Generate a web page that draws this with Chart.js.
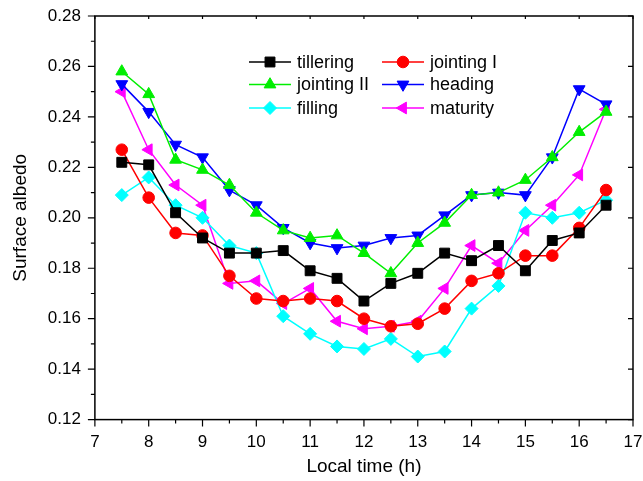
<!DOCTYPE html>
<html>
<head>
  <script src="https://cdn.jsdelivr.net/npm/chart.js"></script>
  <title>Surface albedo</title>
  <style>
    body { margin: 0; background: #fff; }
    #wrap { width: 643px; height: 481px; }
  </style>
</head>
<body>
  <div id="wrap"><canvas id="albedo"></canvas></div>

  <script>
    // Local time (h)
    let hours = [7.5, 8, 8.5, 9, 9.5, 10, 10.5, 11, 11.5, 12, 12.5, 13, 13.5, 14, 14.5, 15, 15.5, 16, 16.5];

    // surface albedo per growth stage
    let tillering  = [0.222, 0.221, 0.202, 0.192, 0.186, 0.186, 0.187, 0.179, 0.176, 0.167, 0.174, 0.178, 0.186, 0.183, 0.189, 0.179, 0.191, 0.194, 0.205];
    let jointing1  = [0.227, 0.208, 0.194, 0.193, 0.177, 0.168, 0.167, 0.168, 0.167, 0.160, 0.157, 0.158, 0.164, 0.175, 0.178, 0.185, 0.185, 0.196, 0.211];
    let jointing2  = [0.258, 0.249, 0.223, 0.219, 0.213, 0.202, 0.195, 0.192, 0.193, 0.186, 0.178, 0.190, 0.198, 0.209, 0.210, 0.215, 0.224, 0.234, 0.242];
    let heading    = [0.253, 0.242, 0.229, 0.224, 0.211, 0.205, 0.196, 0.190, 0.188, 0.189, 0.192, 0.193, 0.201, 0.209, 0.210, 0.209, 0.224, 0.251, 0.245];
    let filling    = [0.209, 0.216, 0.205, 0.200, 0.189, 0.186, 0.161, 0.154, 0.149, 0.148, 0.152, 0.145, 0.147, 0.164, 0.173, 0.202, 0.200, 0.202, 0.207];
    let maturity   = [0.250, 0.227, 0.213, 0.205, 0.174, 0.175, 0.166, 0.172, 0.159, 0.156, 0.157, 0.159, 0.172, 0.189, 0.182, 0.195, 0.205, 0.217, 0.243];

    let xTicks = [7, 8, 9, 10, 11, 12, 13, 14, 15, 16, 17];
    let yTicks = ['0.12', '0.14', '0.16', '0.18', '0.20', '0.22', '0.24', '0.26', '0.28'];

    function series(label, values, color, style, radius, rotation) {
      return {
        label: label,
        data: values.map((v, i) => ({ x: hours[i], y: v })),
        borderColor: color,
        backgroundColor: color,
        borderWidth: 1.5,
        pointStyle: style,
        pointRadius: radius,
        pointHoverRadius: radius,
        pointRotation: rotation || 0,
        pointBorderWidth: 1,
        tension: 0
      };
    }

    let datasets = [
      series('tillering', tillering, '#000000', 'rect', 7),
      series('jointing I', jointing1, '#ff0000', 'circle', 5.8),
      series('jointing II', jointing2, '#00ee00', 'triangle', 6.8),
      series('heading', heading, '#0000ff', 'triangle', 6.8, 180),
      series('filling', filling, '#00ffff', 'rectRot', 6.5),
      series('maturity', maturity, '#ff00ff', 'triangle', 6.8, 270)
    ];

    // frame with inside / outside tick marks, like the original plot
    let framePlugin = {
      id: 'frame',
      afterDraw(chart) {
        let ctx = chart.ctx;
        let a = chart.chartArea;
        let xs = chart.scales.x, ys = chart.scales.y;
        ctx.save();
        ctx.strokeStyle = '#000';
        ctx.lineWidth = 1.5;
        ctx.strokeRect(a.left, a.top, a.right - a.left, a.bottom - a.top);
        ctx.lineWidth = 1.2;
        ctx.beginPath();
        for (let v = 7; v <= 17.001; v += 0.5) {
          let px = xs.getPixelForValue(v);
          let major = Math.abs(v - Math.round(v)) < 1e-6;
          ctx.moveTo(px, a.bottom);
          ctx.lineTo(px, a.bottom + (major ? 7 : 4));
          if (major) { ctx.moveTo(px, a.top); ctx.lineTo(px, a.top + 3); }
        }
        for (let i = 0; i <= 16; i++) {
          let py = ys.getPixelForValue(0.12 + i * 0.01);
          let major = i % 2 === 0;
          ctx.moveTo(a.left, py);
          ctx.lineTo(a.left - (major ? 7 : 4), py);
          if (major) { ctx.moveTo(a.right, py); ctx.lineTo(a.right - 5, py); }
        }
        ctx.stroke();
        ctx.restore();
      }
    };

    // two column legend inside the plot
    let legendPlugin = {
      id: 'innerLegend',
      afterDraw(chart) {
        let ctx = chart.ctx;
        let cols = [270, 403];
        let rows = [62, 84.5, 108];
        ctx.save();
        ctx.font = '18px "Liberation Sans", Arial, sans-serif';
        ctx.textBaseline = 'middle';
        ctx.textAlign = 'left';
        chart.data.datasets.forEach((ds, i) => {
          let cx = cols[i % 2], cy = rows[Math.floor(i / 2)];
          ctx.strokeStyle = ds.borderColor;
          ctx.fillStyle = ds.backgroundColor;
          ctx.lineWidth = 1.5;
          ctx.beginPath();
          ctx.moveTo(cx - 21, cy);
          ctx.lineTo(cx + 21, cy);
          ctx.stroke();
          ctx.lineWidth = 1;
          Chart.helpers.drawPoint(ctx, {
            pointStyle: ds.pointStyle,
            rotation: ds.pointRotation,
            radius: ds.pointRadius,
            borderWidth: 1
          }, cx, cy);
          ctx.fillStyle = '#000';
          ctx.fillText(ds.label, cx + 27, cy + 1);
        });
        ctx.restore();
      }
    };

    let ctx = document.getElementById('albedo').getContext('2d');
    new Chart(ctx, {
      type: 'line',
      data: { datasets: datasets },
      plugins: [framePlugin, legendPlugin],
      options: {
        responsive: true,
        maintainAspectRatio: false,
        animation: false,
        layout: { padding: { top: 16, right: 10, left: 0, bottom: 0 } },
        plugins: {
          legend: { display: false },
          tooltip: { enabled: false }
        },
        scales: {
          x: {
            type: 'linear',
            min: 7,
            max: 17,
            afterBuildTicks: scale => { scale.ticks = xTicks.map(v => ({ value: v })); },
            afterFit: scale => { scale.paddingRight = 0; },
            grid: { display: false, drawTicks: false },
            border: { display: false },
            ticks: {
              color: '#000',
              padding: 13,
              maxRotation: 0,
              font: { family: '"Liberation Sans", Arial, sans-serif', size: 17 },
              callback: v => String(v)
            },
            title: {
              display: true,
              text: 'Local time (h)',
              color: '#000',
              padding: { top: -9, bottom: 5 },
              font: { family: '"Liberation Sans", Arial, sans-serif', size: 19, lineHeight: 1 }
            }
          },
          y: {
            min: 0.12,
            max: 0.28,
            afterBuildTicks: scale => { scale.ticks = yTicks.map(t => ({ value: parseFloat(t) })); },
            afterFit: scale => { scale.paddingTop = 0; scale.paddingBottom = 0; },
            grid: { display: false, drawTicks: false },
            border: { display: false },
            ticks: {
              color: '#000',
              padding: 14,
              font: { family: '"Liberation Sans", Arial, sans-serif', size: 17 },
              callback: v => v.toFixed(2)
            },
            title: {
              display: true,
              text: 'Surface albedo',
              color: '#000',
              padding: { top: 9, bottom: 2 },
              font: { family: '"Liberation Sans", Arial, sans-serif', size: 19 }
            }
          }
        }
      }
    });
  </script>
</body>
</html>
